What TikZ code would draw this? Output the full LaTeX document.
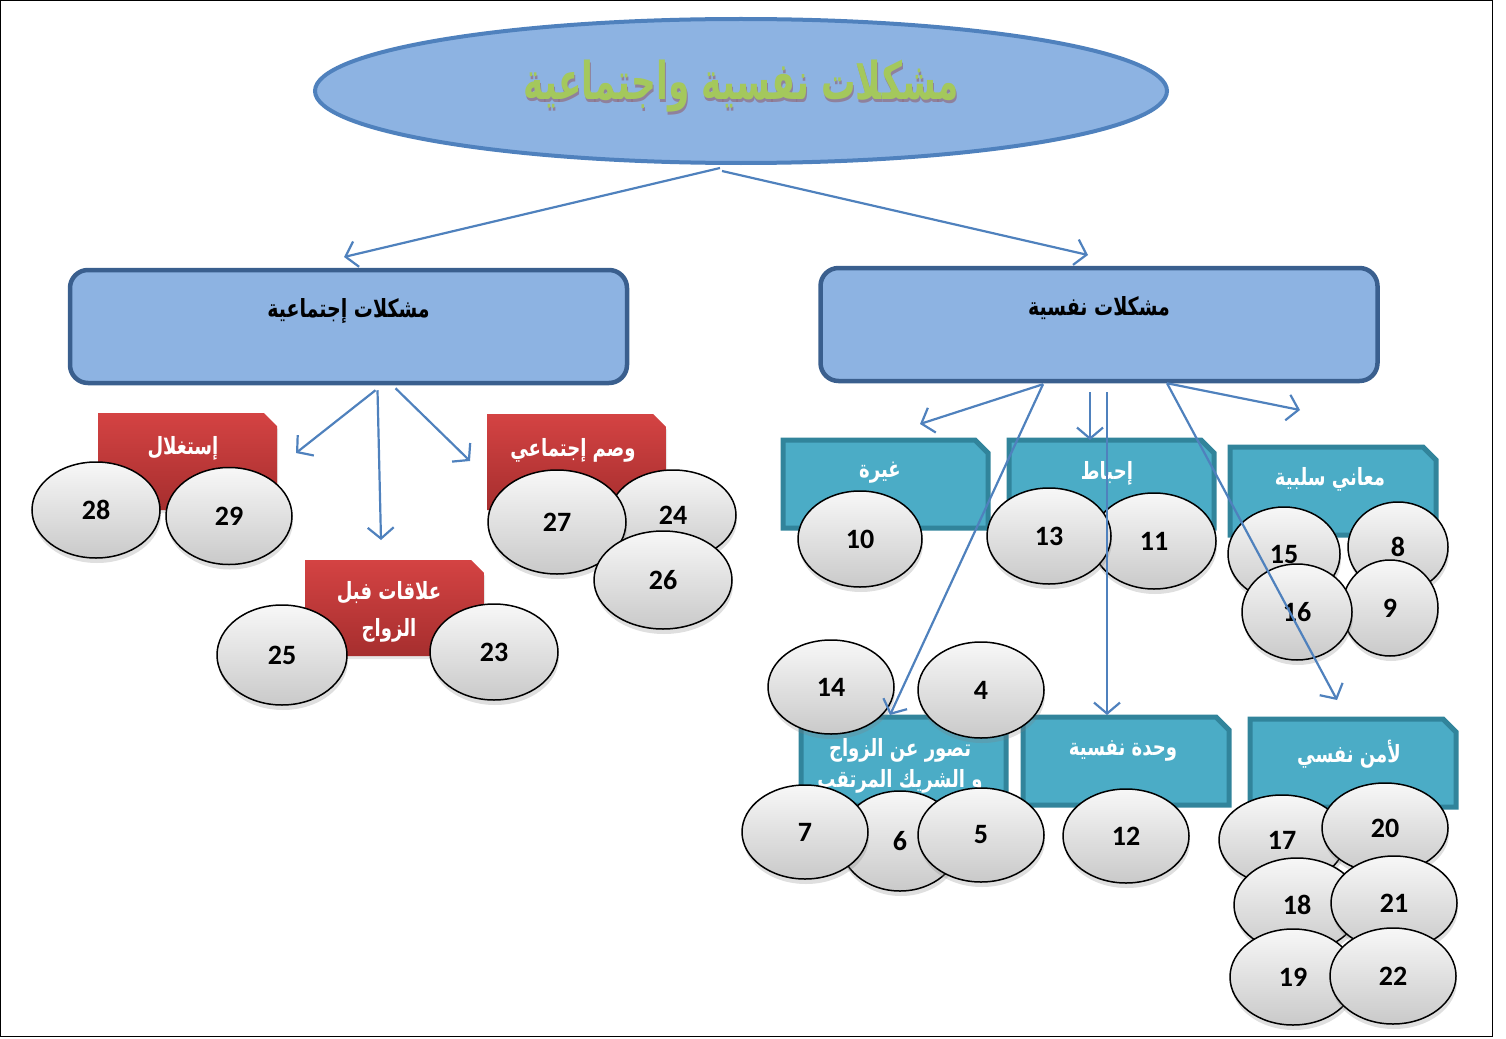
\documentclass[tikz,border=0pt]{standalone}
\usepackage{fontspec}
\usepackage{pdfrender}
\setmainfont{Carlito}
\newfontfamily\arabicfont[Script=Arabic]{DejaVu Sans}
\TeXXeTstate=1
\usetikzlibrary{shapes.geometric,arrows.meta,shadows}
\newcommand{\artxt}[1]{{\arabicfont\beginR #1\endR}}
\newcommand{\tall}[1]{\scalebox{0.95}[1.25]{\artxt{#1}}}
\definecolor{ellfill}{HTML}{8DB3E2}
\definecolor{ellline}{HTML}{4F81BD}
\definecolor{boxline}{HTML}{3A5F8E}
\definecolor{tealfill}{HTML}{4BACC6}
\definecolor{tealline}{HTML}{31849B}
\definecolor{redtop}{HTML}{D44343}
\definecolor{redbot}{HTML}{A62E2E}
\definecolor{arrowc}{HTML}{4F81BD}
\definecolor{titlegreen}{HTML}{A4C85C}
\definecolor{titlered}{HTML}{943634}
\tikzset{
  ball/.style={ellipse, draw=black, line width=1.5, top color=gray!6, bottom color=gray!42,
    drop shadow={opacity=0.25,shadow xshift=1pt,shadow yshift=-5pt},
    font=\fontsize{28}{32}\selectfont\bfseries, inner sep=0pt},
  bigbox/.style={rectangle, rounded corners=18pt, draw=boxline, line width=4.5pt, fill=ellfill,
    minimum width=557pt, minimum height=113pt, inner sep=0pt},
  tboxpath/.style={draw=tealline, line width=5pt, fill=tealfill, line join=miter},
  rboxpath/.style={top color=redtop, bottom color=redbot,
    drop shadow={opacity=0.2,shadow xshift=1pt,shadow yshift=-3pt}},
  wlbl/.style={text=white, font=\arabicfont\bfseries\fontsize{19}{30}\selectfont, align=center},
  blbl/.style={text=black, font=\arabicfont\bfseries\fontsize{20}{24}\selectfont},
  conn/.style={draw=arrowc, line width=2.2pt, -{Straight Barb[length=11pt,width=26pt,line width=2.2pt]}}
}
\newcommand{\mkball}[5]{\node[ball, minimum width=#4pt, minimum height=#5pt] (b#1) at (#2,#3) {#1};}
% name, left, top, right, bottom, style
\newcommand{\chbox}[6]{%
  \path[#6] (#2,#3) -- (#4-13,#3) -- (#4,#3+13) -- (#4,#5) -- (#2,#5) -- cycle;
  \coordinate (#1) at ({(#2+#4)/2},{(#3+#5)/2});}
\newcommand{\titlestr}{\scalebox{0.86}[1.3]{\artxt{مشكلات نفسية واجتماعية}}}
\begin{document}
\begin{tikzpicture}[x=1pt,y=-1pt]
\useasboundingbox (0,0) rectangle (1506,1038);
\draw[black, line width=1pt] (0.5,0.5) rectangle (1492.5,1036.5);

% title
\node[ellipse, draw=ellline, line width=4pt, fill=ellfill, minimum width=852pt, minimum height=144pt] (title) at (741,91) {};
\node[text=titlered, opacity=0.4, font=\arabicfont\bfseries\fontsize{40}{48}\selectfont] (tshadow) at (742,89)
  {\textpdfrender{TextRenderingMode=FillStroke, LineWidth=8, StrokeColor=titlered, FillColor=titlered}{\titlestr}};
\node[text=titlegreen, font=\arabicfont\bfseries\fontsize{40}{48}\selectfont] (ttext) at (741,86)
  {\textpdfrender{TextRenderingMode=FillStroke, LineWidth=3, StrokeColor=white, FillColor=titlegreen}{\titlestr}};

% level-1 boxes
\node[bigbox] (lbox) at (348.5,326.5) {};
\node[blbl] (lboxt) at (348.5,311) {\tall{مشكلات إجتماعية}};
\node[bigbox] (rbox) at (1099,324.5) {};
\node[blbl] (rboxt) at (1099,308) {\tall{مشكلات نفسية}};

\coordinate (tl) at (344,257);
\coordinate (tr) at (1088,255);
\draw[conn] ([xshift=-21pt,yshift=-3pt]title.south) -- (tl);
\draw[conn] ([xshift=-19pt,yshift=-6pt]title.south) -- (tr);

% left arrows
\coordinate (e1) at (296,453);
\coordinate (e2) at (381,540);
\coordinate (e3) at (470,461);
\draw[conn] ([xshift=27pt,yshift=-5pt]lbox.south) -- (e1);
\draw[conn] ([xshift=29pt,yshift=-5pt]lbox.south) -- (e2);
\draw[conn] ([xshift=47pt,yshift=-3pt]lbox.south) -- (e3);

% red boxes
\chbox{r1}{98}{413}{277}{510}{rboxpath}
\node[wlbl] (r1t) at (183,448) {\tall{إستغلال}};
\chbox{r2}{487}{414}{666}{510}{rboxpath}
\node[wlbl] (r2t) at (573,450) {\tall{وصم إجتماعي}};
\chbox{r3}{305}{560}{484}{656}{rboxpath}
\node[wlbl] (r3t) at (389,593) {\tall{علاقات فبل}};
\node[wlbl] (r3u) at (389,630) {\tall{الزواج}};

\mkball{28}{96}{510}{128}{96}
\mkball{29}{229}{516}{126}{97}
\mkball{24}{673}{515}{126}{90}
\mkball{27}{557}{522}{138}{104}
\mkball{26}{663}{580}{138}{98}
\mkball{25}{282}{655}{130}{100}
\mkball{23}{494}{652}{128}{96}

% teal boxes
\chbox{t1}{783}{440}{988}{528}{tboxpath}
\node[wlbl] (t1t) at (880,473) {\tall{غيرة}};
\chbox{t2}{1009}{440}{1214}{528}{tboxpath}
\node[wlbl] (t2t) at (1107,473) {\tall{إحباط}};
\chbox{t3}{1230}{447}{1436}{535}{tboxpath}
\node[wlbl] (t3t) at (1330,479) {\tall{معاني سلبية}};
\chbox{t4}{801}{717}{1006}{805}{tboxpath}
\node[wlbl] (t4t) at (900,750) {\tall{تصور عن الزواج}};
\node[wlbl] (t4u) at (900,781) {\tall{و الشريك المرتقب}};
\chbox{t5}{1023}{717}{1229}{805}{tboxpath}
\node[wlbl] (t5t) at (1123,751) {\tall{وحدة نفسية}};
\chbox{t6}{1250}{719}{1456}{807}{tboxpath}
\node[wlbl] (t6t) at (1349,754) {\tall{لأمن نفسي}};

\mkball{10}{860}{539}{124}{96}
\mkball{11}{1154}{541}{124}{96}
\mkball{13}{1049}{536}{124}{96}
\mkball{15}{1284}{554}{112}{94}
\mkball{8}{1398}{547}{100}{90}
\mkball{9}{1390}{608}{96}{96}
\mkball{16}{1297}{612}{110}{96}
\mkball{14}{831}{687}{126}{94}
\mkball{4}{981}{690}{126}{96}
\mkball{6}{900}{841}{120}{100}
\mkball{7}{805}{832}{126}{94}
\mkball{5}{981}{835}{126}{94}
\mkball{12}{1126}{836}{126}{94}
\mkball{17}{1282}{840}{126}{90}
\mkball{20}{1385}{828}{126}{90}
\mkball{18}{1297}{905}{126}{94}
\mkball{21}{1394}{903}{126}{94}
\mkball{19}{1293}{977}{126}{96}
\mkball{22}{1393}{976}{126}{96}

% right arrows (on top)
\coordinate (f1) at (920,424);
\coordinate (f2) at (890,715);
\coordinate (f3) at (1090,440);
\coordinate (f4) at (1107,715);
\coordinate (f5) at (1300,410);
\coordinate (f6) at (1337,700);
\draw[conn] ([xshift=-56pt,yshift=-1pt]rbox.south) -- (f1);
\draw[conn] ([xshift=-56pt,yshift=-1pt]rbox.south) -- (f2);
\draw[conn] ([xshift=-9pt,yshift=-9pt]rbox.south) -- (f3);
\draw[conn] ([xshift=8pt,yshift=-9pt]rbox.south) -- (f4);
\draw[conn] ([xshift=68pt,yshift=0pt]rbox.south) -- (f5);
\draw[conn] ([xshift=68pt,yshift=0pt]rbox.south) -- (f6);
\end{tikzpicture}
\end{document}
